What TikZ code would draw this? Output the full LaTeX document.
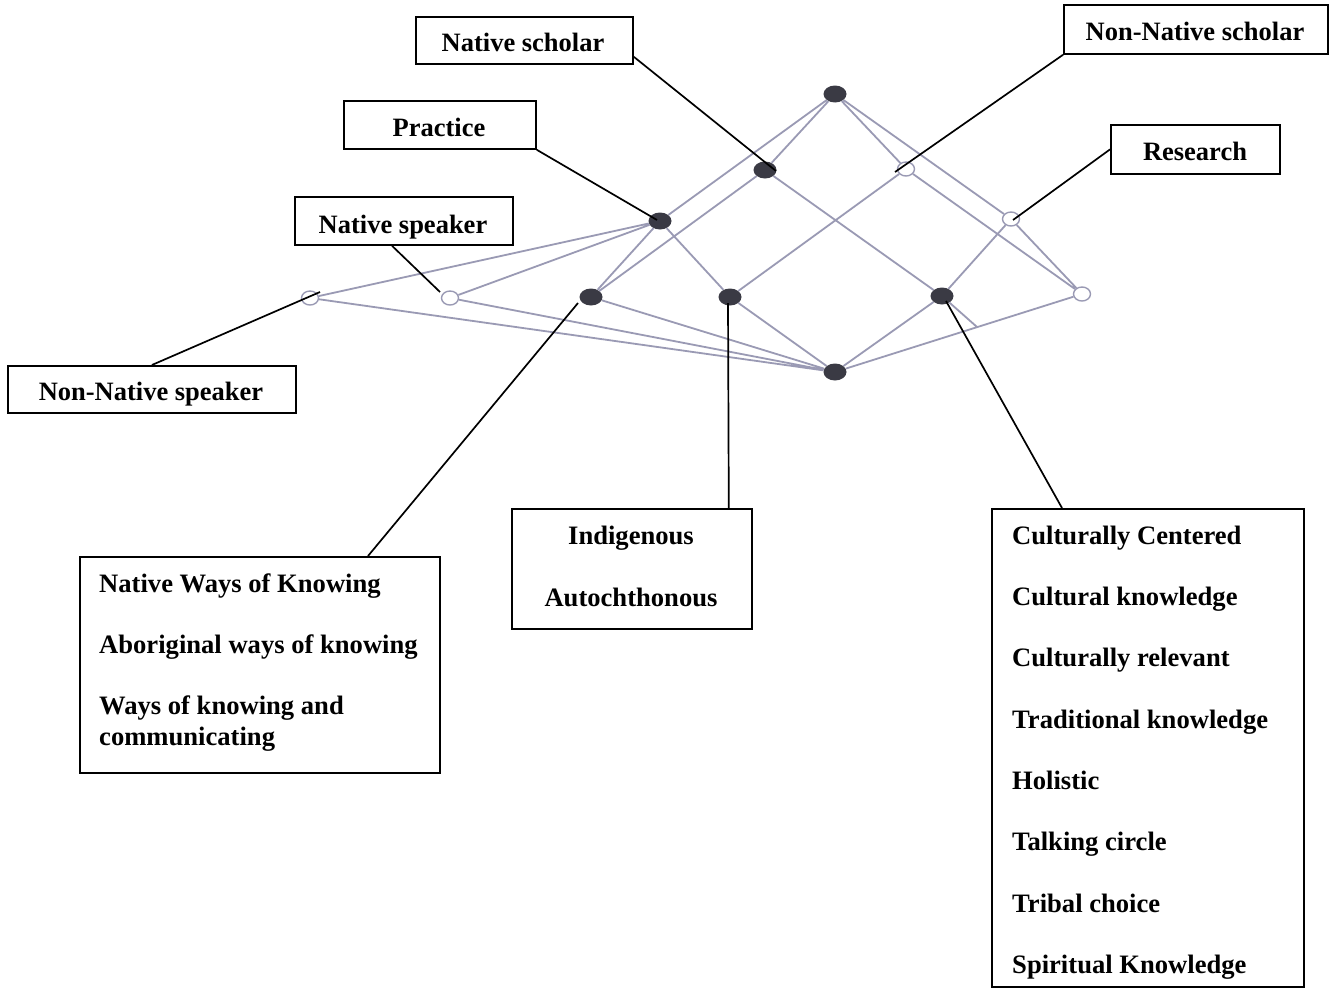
\documentclass[tikz,border=0pt]{standalone}
\usepackage{fontspec}
\setmainfont{Liberation Serif}
\usetikzlibrary{shapes.geometric,calc}
\definecolor{edgec}{HTML}{9A9AB4}
\definecolor{fillc}{HTML}{3A3A44}
\begin{document}
\begin{tikzpicture}[x=1pt,y=-1pt,
  full/.style={ellipse, fill=fillc, minimum width=23pt, minimum height=17pt, inner sep=0},
  hollow/.style={ellipse, draw=edgec, fill=white, line width=1.4pt, minimum width=17pt, minimum height=14pt, inner sep=0},
  edge/.style={draw=edgec, line width=1.8pt},
  lead/.style={draw=black, line width=1.7pt},
  box/.style={draw=black, line width=1.8pt, inner sep=0, anchor=north west},
  ttl/.style={font=\fontsize{26.5}{30}\selectfont\bfseries, inner sep=0, anchor=base},
  item/.style={font=\fontsize{26.6}{30}\selectfont\bfseries, inner sep=0, anchor=base west},
  citem/.style={font=\fontsize{26.6}{30}\selectfont\bfseries, inner sep=0, anchor=base}]
\useasboundingbox (0,0) rectangle (1332,993);
\fill[white] (0,0) rectangle (1332,993);

% lattice nodes
\node[full] (T) at (835,94) {};
\node[full] (NS) at (765,170) {};
\node[hollow] (NNS) at (906,169) {};
\node[full] (P) at (660,221) {};
\node[hollow] (R) at (1011,219) {};
\node[hollow] (L1) at (310,298) {};
\node[hollow] (L2) at (450,298) {};
\node[full] (A) at (591,297) {};
\node[full] (B) at (730,297) {};
\node[full] (C) at (942,296) {};
\node[hollow] (D) at (1082,294) {};
\node[full] (Bot) at (835,372) {};
\coordinate (art) at (977,327);

% lattice edges
\path[edge] (T) -- (P) (T) -- (NS) (T) -- (NNS) (T) -- (R)
  (P) -- (L1) (P) -- (L2) (P) -- (A) (P) -- (B)
  (NS) -- (A) (NS) -- (C)
  (NNS) -- (B) (NNS) -- (D)
  (R) -- (C) (R) -- (D)
  (L1) -- (Bot) (L2) -- (Bot) (A) -- (Bot) (B) -- (Bot) (C) -- (Bot) (D) -- (Bot)
  (C) -- (art);

% label boxes
\node[box, minimum width=217pt, minimum height=47pt] (bNS) at (415,16) {};
\node[ttl] (tNS) at (523,51) {Native scholar};
\node[box, minimum width=264pt, minimum height=49pt] (bNNS) at (1063,4) {};
\node[ttl] (tNNS) at (1195,40) {Non-Native scholar};
\node[box, minimum width=192pt, minimum height=48pt] (bP) at (343,100) {};
\node[ttl] (tP) at (439,136) {Practice};
\node[box, minimum width=169pt, minimum height=49pt] (bR) at (1110,124) {};
\node[ttl] (tR) at (1195,160) {Research};
\node[box, minimum width=218pt, minimum height=48pt] (bNSp) at (294,196) {};
\node[ttl] (tNSp) at (403,233) {Native speaker};
\node[box, minimum width=288pt, minimum height=47pt] (bNNSp) at (7,365) {};
\node[ttl] (tNNSp) at (151,400) {Non-Native speaker};

\node[box, minimum width=360pt, minimum height=216pt] (bA) at (79,556) {};
\node[item] (a1) at (99,592) {Native Ways of Knowing};
\node[item] (a2) at (99,653) {Aboriginal ways of knowing};
\node[item] (a3) at (99,714) {Ways of knowing and};
\node[item] (a4) at (99,745) {communicating};

\node[box, minimum width=240pt, minimum height=120pt] (bB) at (511,508) {};
\node[citem] (b1) at (631,544) {Indigenous};
\node[citem] (b2) at (631,606) {Autochthonous};

\node[box, minimum width=312pt, minimum height=478pt] (bC) at (991,508) {};
\node[item] (c1) at (1012,544) {Culturally Centered};
\node[item] (c2) at (1012,605) {Cultural knowledge};
\node[item] (c3) at (1012,666) {Culturally relevant};
\node[item] (c4) at (1012,728) {Traditional knowledge};
\node[item] (c5) at (1012,789) {Holistic};
\node[item] (c6) at (1012,850) {Talking circle};
\node[item] (c7) at (1012,912) {Tribal choice};
\node[item] (c8) at (1012,973) {Spiritual Knowledge};

% leader lines
\coordinate (eNS) at (776,171);
\coordinate (eNNS) at (895,172);
\coordinate (eP) at (657,220);
\coordinate (eR) at (1013,220);
\coordinate (eNSp) at (440,292);
\coordinate (eNNSp) at (320,292);
\coordinate (eA) at (578,303);
\coordinate (eB) at (728,303);
\coordinate (eC) at (946,301);
\draw[lead] ($(bNS.south east)+(0,-8)$) -- (eNS);
\draw[lead] (bNNS.south west) -- (eNNS);
\draw[lead] (bP.south east) -- (eP);
\draw[lead] (bR.west) -- (eR);
\draw[lead] ($(bNSp.south west)+(98,0)$) -- (eNSp);
\draw[lead] (bNNSp.north) -- (eNNSp);
\draw[lead] ($(bA.north west)+(289,0)$) -- (eA);
\draw[lead] ($(bB.north east)+(-24,0)$) -- (eB);
\draw[lead] ($(bC.north west)+(71,0)$) -- (eC);
\end{tikzpicture}
\end{document}
